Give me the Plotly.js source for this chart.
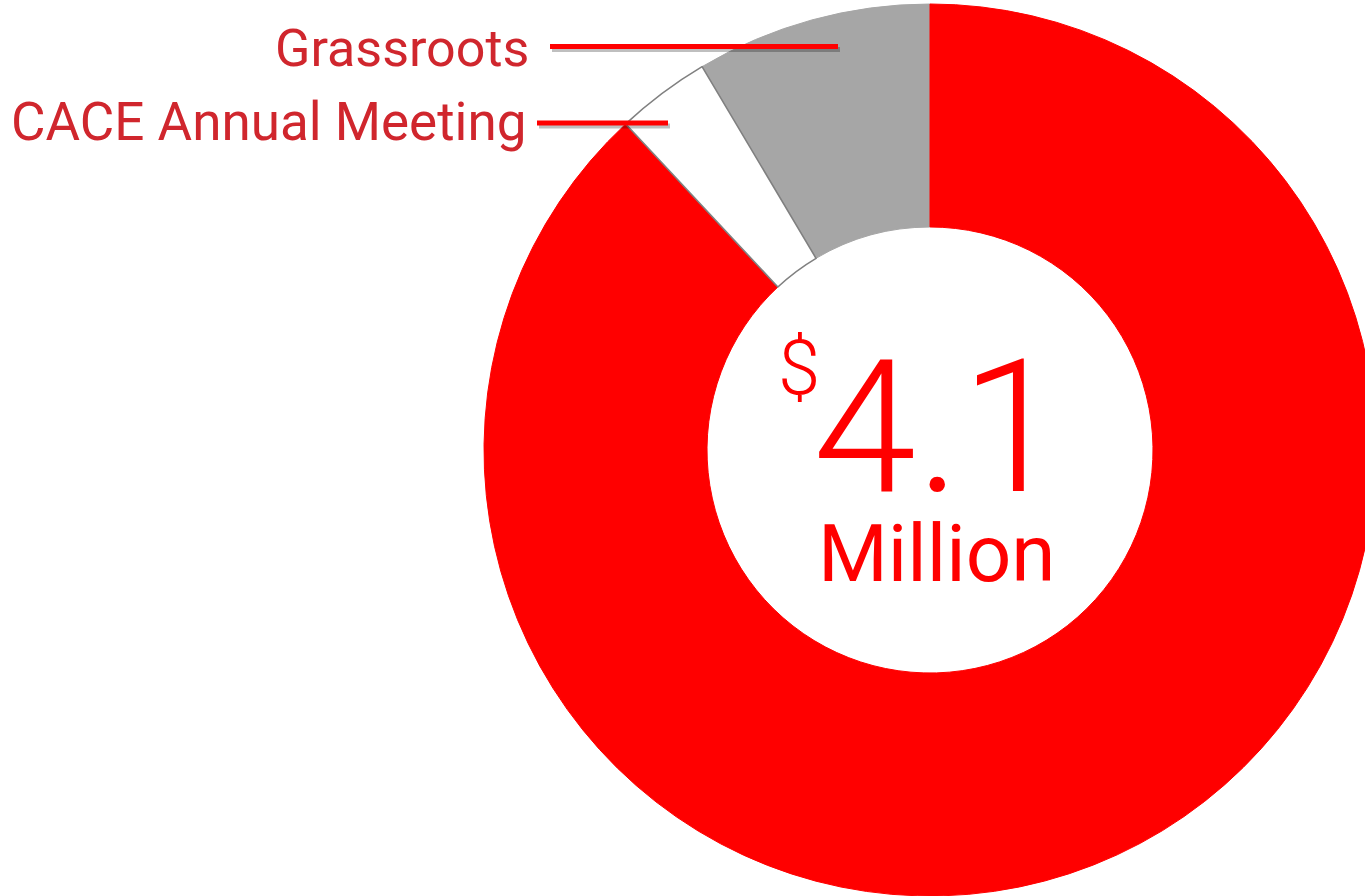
<!DOCTYPE html>
<html><head><meta charset="utf-8">
<script src="https://cdn.plot.ly/plotly-3.0.1.min.js"></script>
<style>html,body{margin:0;padding:0;overflow:hidden;background:#fff}</style>
</head><body><div id="chart"></div>
<script>
// Data ($ millions), drawn clockwise starting with Grassroots
const labels = ['Grassroots', 'Other Programs', 'CACE Annual Meeting'];
const values = [0.35, 3.61, 0.14];
const sliceColors = ['#a6a6a6', '#ff0000', '#ffffff'];
const sliceLineColors = ['#a6a6a6', '#ff0000', '#808080'];
const calloutLabels = ['Grassroots', 'CACE Annual Meeting'];
const currencySymbol = '$';
const totalText = '4.1';
const unitText = 'Million';

const W = 1380, H = 896;
const px = x => x / W, py = y => 1 - y / H;
const total = values.reduce((a, b) => a + b, 0);
const rotation = -360 * values[0] / total;

const labelColor = '#d0262d';
const red = '#ff0000';

const trace = {
  type: 'pie',
  labels: labels,
  values: values,
  sort: false,
  direction: 'clockwise',
  rotation: rotation,
  hole: 0.5,
  textinfo: 'none',
  hoverinfo: 'none',
  showlegend: false,
  domain: {x: [px(484), px(1376)], y: [py(896), py(4)]},
  marker: {colors: sliceColors, line: {color: sliceLineColors, width: [1, 1, 1.6]}}
};

function leader(x0, x1, y) {
  return [
    {type: 'line', xref: 'paper', yref: 'paper', x0: px(x0 + 2), x1: px(x1 + 2), y0: py(y + 3), y1: py(y + 3),
     line: {color: 'rgba(0,0,0,0.25)', width: 5}, layer: 'above'},
    {type: 'line', xref: 'paper', yref: 'paper', x0: px(x0), x1: px(x1), y0: py(y), y1: py(y),
     line: {color: red, width: 5}, layer: 'above'}
  ];
}

const layout = {
  width: W, height: H,
  margin: {l: 0, r: 0, t: 0, b: 0},
  paper_bgcolor: '#ffffff', plot_bgcolor: '#ffffff',
  shapes: [].concat(leader(550, 838, 46.5), leader(537, 668, 123)),
  annotations: [
    {text: calloutLabels[0], xref: 'paper', yref: 'paper', x: px(531), y: py(48), xanchor: 'right', yanchor: 'middle',
     showarrow: false, font: {family: 'Roboto, sans-serif', size: 52, color: labelColor}},
    {text: calloutLabels[1], xref: 'paper', yref: 'paper', x: px(528), y: py(122), xanchor: 'right', yanchor: 'middle',
     showarrow: false, font: {family: 'Roboto, sans-serif', size: 53, color: labelColor}},
    {text: currencySymbol, xref: 'paper', yref: 'paper', x: px(776), y: py(368), xanchor: 'left', yanchor: 'middle',
     showarrow: false, font: {family: 'Roboto, sans-serif', size: 76, color: red, weight: 300}},
    {text: totalText, xref: 'paper', yref: 'paper', x: px(938), y: py(427), xanchor: 'center', yanchor: 'middle',
     showarrow: false, font: {family: 'Roboto, sans-serif', size: 186, color: red, weight: 300}},
    {text: unitText, xref: 'paper', yref: 'paper', x: px(936), y: py(554), xanchor: 'center', yanchor: 'middle',
     showarrow: false, font: {family: 'Roboto, sans-serif', size: 80, color: red, weight: 400}}
  ]
};

Plotly.newPlot('chart', [trace], layout, {displayModeBar: false, staticPlot: true});
</script>
</body></html>
